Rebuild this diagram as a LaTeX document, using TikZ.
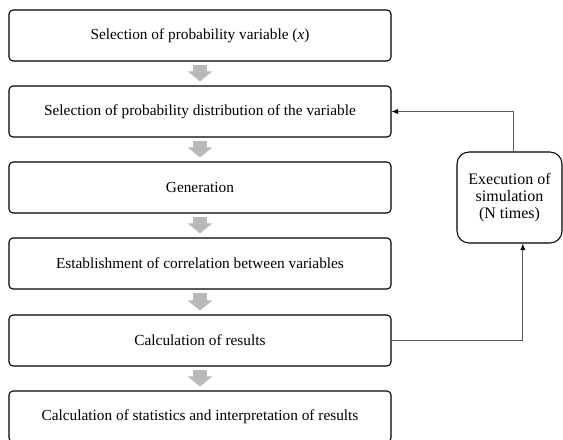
\documentclass[tikz,border=0pt]{standalone}
\usepackage{fontspec}
\setmainfont{Liberation Serif}
\usetikzlibrary{arrows.meta}
\definecolor{blockgray}{RGB}{185,185,185}
\definecolor{linegray}{RGB}{90,90,90}
\begin{document}
\begin{tikzpicture}[x=0.75pt,y=-0.75pt,
  stepbox/.style={draw=black, line width=0.8pt, rounded corners=3pt,
    minimum width=286.5pt, minimum height=38.25pt, inner sep=0pt,
    font=\fontsize{11.5}{13}\selectfont},
  simbox/.style={draw=black, line width=0.8pt, rounded corners=9pt,
    minimum width=78.75pt, minimum height=68.25pt, inner sep=0pt, align=center,
    font=\fontsize{12}{12.5}\selectfont},
  blockarrow/.style={draw=blockgray, line width=10.5pt, line cap=butt,
    -{Triangle[length=7.5pt, width=18pt]}},
  fb/.style={draw=linegray, line width=0.6pt, -{Latex[length=5pt,width=4pt,black]}}
]
\clip (0,0) rectangle (563,439);
\node[stepbox] (b1) at (200,35.5) {Selection of probability variable (\textit{x})};
\node[stepbox] (b2) at (200,111.5) {Selection of probability distribution of the variable};
\node[stepbox] (b3) at (200,187.5) {Generation};
\node[stepbox] (b4) at (200,263.5) {Establishment of correlation between variables};
\node[stepbox] (b5) at (200,340.5) {Calculation of results};
\node[stepbox] (b6) at (200,416.5) {Calculation of statistics and interpretation of results};
\node[simbox] (sim) at (509.5,197.5) {Execution of\\simulation\\(N times)};
\foreach \a/\b in {b1/b2,b2/b3,b3/b4,b4/b5,b5/b6}{
  \draw[blockarrow] ([yshift=-2.25pt]\a.south) -- ([yshift=3pt]\b.north);
}
\draw[fb] ([xshift=3pt]sim.north) |- (b2.east);
\draw[fb] (b5.east) -| ([xshift=10pt]sim.south);
\end{tikzpicture}
\end{document}
